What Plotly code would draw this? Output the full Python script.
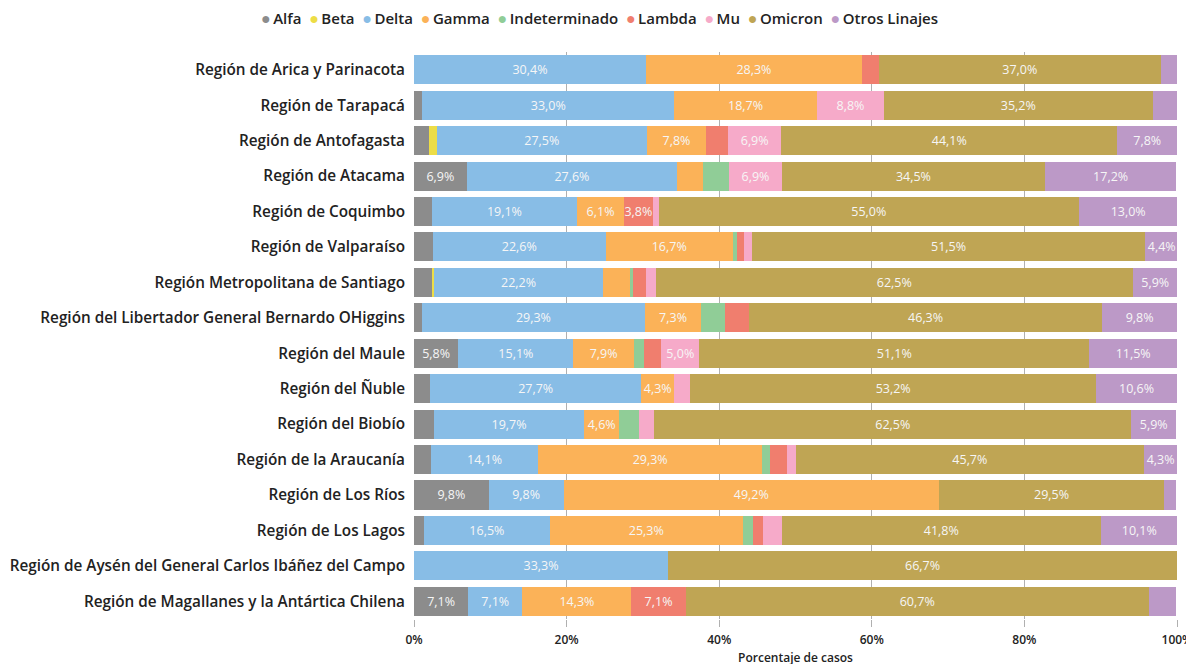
import plotly.graph_objects as go

regions = [
    "Región de Arica y Parinacota",
    "Región de Tarapacá",
    "Región de Antofagasta",
    "Región de Atacama",
    "Región de Coquimbo",
    "Región de Valparaíso",
    "Región Metropolitana de Santiago",
    "Región del Libertador General Bernardo OHiggins",
    "Región del Maule",
    "Región del Ñuble",
    "Región del Biobío",
    "Región de la Araucanía",
    "Región de Los Ríos",
    "Región de Los Lagos",
    "Región de Aysén del General Carlos Ibáñez del Campo",
    "Región de Magallanes y la Antártica Chilena",
]

alfa          = [0.0, 1.1, 2.0, 6.9, 2.3, 2.5, 2.4, 1.0, 5.8, 2.1, 2.6, 2.2, 9.8, 1.3, 0.0, 7.1]
beta          = [0.0, 0.0, 1.0, 0.0, 0.0, 0.0, 0.2, 0.0, 0.0, 0.0, 0.0, 0.0, 0.0, 0.0, 0.0, 0.0]
delta         = [30.4, 33.0, 27.5, 27.6, 19.1, 22.6, 22.2, 29.3, 15.1, 27.7, 19.7, 14.1, 9.8, 16.5, 33.3, 7.1]
gamma         = [28.3, 18.7, 7.8, 3.4, 6.1, 16.7, 3.5, 7.3, 7.9, 4.3, 4.6, 29.3, 49.2, 25.3, 0.0, 14.3]
indeterminado = [0.0, 0.0, 0.0, 3.4, 0.0, 0.5, 0.4, 3.2, 1.4, 0.0, 2.6, 1.1, 0.0, 1.3, 0.0, 0.0]
lambda_       = [2.2, 0.0, 2.9, 0.0, 3.8, 1.0, 1.7, 3.1, 2.2, 0.0, 0.0, 2.2, 0.0, 1.3, 0.0, 7.1]
mu            = [0.0, 8.8, 6.9, 6.9, 0.8, 1.0, 1.3, 0.0, 5.0, 2.1, 2.0, 1.1, 0.0, 2.5, 0.0, 0.0]
omicron       = [37.0, 35.2, 44.1, 34.5, 55.0, 51.5, 62.5, 46.3, 51.1, 53.2, 62.5, 45.7, 29.5, 41.8, 66.7, 60.7]
otros         = [2.2, 3.3, 7.8, 17.2, 13.0, 4.4, 5.9, 9.8, 11.5, 10.6, 5.9, 4.3, 1.6, 10.1, 0.0, 3.6]

series_names = ["Alfa", "Beta", "Delta", "Gamma", "Indeterminado", "Lambda", "Mu", "Omicron", "Otros Linajes"]
series_values = [alfa, beta, delta, gamma, indeterminado, lambda_, mu, omicron, otros]
colors = ["#8c8c8c", "#eddd46", "#88bde6", "#fbb258", "#90cd97", "#f07e6e", "#f6aac9", "#bfa554", "#bc99c7"]

x_ticks = [0, 20, 40, 60, 80, 100]
x_tick_labels = ["0%", "20%", "40%", "60%", "80%", "100%"]

FONT = "Open Sans"

def fmt(v):
    if v >= 3.7:
        return f"{v:.1f}".replace(".", ",") + "%"
    return ""

fig = go.Figure()
for name, vals, col in zip(series_names, series_values, colors):
    fig.add_trace(go.Bar(
        y=regions, x=vals, name=name, orientation="h",
        marker=dict(color=col, line=dict(width=0)),
        text=[fmt(v) for v in vals],
        textposition="inside", insidetextanchor="middle",
        textangle=0, constraintext="none",
        insidetextfont=dict(family=FONT, size=12.5, color="#f6f6f6"),
        showlegend=False,
        hovertemplate="%{y}<br>" + name + ": %{x:.1f}%<extra></extra>",
    ))

# page offset of the figure inside the browser page (default body margin)
OFF = 8
W, H = 1194, 664
ML, MR, MT, MB = 414 - OFF, W + OFF - 1177, 52 - OFF, H + OFF - 619

legend_parts = []
for name, col in zip(series_names, colors):
    legend_parts.append(
        f"<span style='color:{col};font-size:16px'>●</span>\u2009{name}"
    )
legend_text = "\u00a0\u00a0".join(legend_parts)

plot_h = H - MT - MB
plot_w = W - ML - MR
fig.add_annotation(
    text=legend_text, showarrow=False,
    xref="paper", yref="paper",
    x=(599 - OFF - ML) / plot_w, y=1 + (MT - (18 - OFF)) / plot_h,
    xanchor="center", yanchor="middle",
    font=dict(family=FONT, size=15, color="#222", weight=600),
)

fig.update_layout(
    barmode="stack",
    bargap=0.18,
    width=W, height=H,
    margin=dict(l=ML, r=MR, t=MT, b=MB),
    paper_bgcolor="white", plot_bgcolor="white",
    font=dict(family=FONT, color="#222"),
    showlegend=False,
    xaxis=dict(
        range=[0, 100], tickvals=x_ticks, ticktext=x_tick_labels,
        showgrid=True, gridcolor="#b0b0b0", gridwidth=1,
        zeroline=False, showline=False,
        ticks="outside", ticklen=7, tickcolor="#b0b0b0",
        ticklabelstandoff=3,
        tickfont=dict(family=FONT, size=12, color="#222", weight=600),
        title=dict(text="Porcentaje de casos", font=dict(family=FONT, size=12, color="#222", weight=600), standoff=6),
        automargin=False, fixedrange=True,
    ),
    yaxis=dict(
        autorange="reversed",
        tickfont=dict(family=FONT, size=15.3, color="#222", weight=600),
        ticks="", ticklabelstandoff=8,
        showgrid=False, showline=False, automargin=False,
    ),
)

fig.write_html("out.html")
